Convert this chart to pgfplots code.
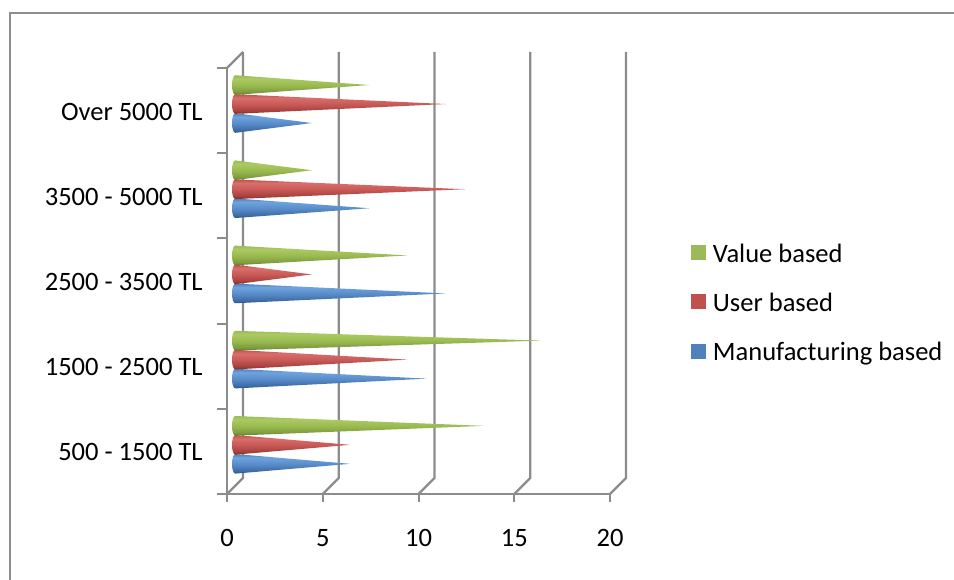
\documentclass[border=0pt]{standalone}
\usepackage{fontspec}
\setmainfont{Carlito}
\usepackage{pgfplots}
\usepackage{pgfplotstable}
\pgfplotsset{compat=1.18}

\definecolor{framegray}{HTML}{8E8E8E}
\definecolor{wallgray}{HTML}{8C8C8C}
\definecolor{conegreen}{HTML}{9BBB59}
\definecolor{conered}{HTML}{C0504D}
\definecolor{coneblue}{HTML}{4F81BD}
\definecolor{gA}{HTML}{5F7A2E}\definecolor{gB}{HTML}{7F9E3E}\definecolor{gC}{HTML}{9BBB52}\definecolor{gD}{HTML}{AACB62}
\definecolor{rA}{HTML}{7E2B29}\definecolor{rB}{HTML}{A8413E}\definecolor{rC}{HTML}{C95A57}\definecolor{rD}{HTML}{D86F6C}
\definecolor{bA}{HTML}{2C5688}\definecolor{bB}{HTML}{3F6EA8}\definecolor{bC}{HTML}{5A8ECB}\definecolor{bD}{HTML}{6FA3DE}

% Cross-section of each cone, dark underside to light upper flank
\pgfdeclareverticalshading{greencone}{100bp}{
  color(0bp)=(gA); color(25bp)=(gA); color(33bp)=(gB);
  color(50bp)=(gC); color(66bp)=(gD); color(75bp)=(conegreen); color(100bp)=(conegreen)}
\pgfdeclareverticalshading{redcone}{100bp}{
  color(0bp)=(rA); color(25bp)=(rA); color(33bp)=(rB);
  color(50bp)=(rC); color(66bp)=(rD); color(75bp)=(conered); color(100bp)=(conered)}
\pgfdeclareverticalshading{bluecone}{100bp}{
  color(0bp)=(bA); color(25bp)=(bA); color(33bp)=(bB);
  color(50bp)=(bC); color(66bp)=(bD); color(75bp)=(coneblue); color(100bp)=(coneblue)}

% Price bands run bottom to top in row order
\pgfplotstableread{
band value
0 6
1 10
2 11
3 7
4 4
}\manufacturing
\pgfplotstableread{
band value
0 6
1 9
2 4
3 12
4 11
}\userbased
\pgfplotstableread{
band value
0 13
1 16
2 9
3 4
4 7
}\valuebased

% Depth of the wall behind the plot, in data units
\def\wallx{0.8355}
\def\wally{0.1878}
% Cones stand half way into the depth
\def\conex{0.43}
% Half height of a cone base and width of its rounded end
\def\coneh{0.115}
\def\conee{0.17}

% One cone per row of a table: table, shading, offset from the middle of the band
\newcommand\conerow[4]{%
  \pgfplotstablegetelem{#4}{value}\of{#1}%
  \pgfmathsetmacro\tip{\pgfplotsretval+\conex}%
  \pgfmathsetmacro\yc{#4+0.5+0.077+#3}%
  \pgfmathsetmacro\ya{\yc+\coneh}%
  \pgfmathsetmacro\yb{\yc-\coneh}%
  \pgfmathsetmacro\yd{\yc+0.92*\coneh}%
  \pgfmathsetmacro\ye{\yc+0.71*\coneh}%
  \pgfmathsetmacro\yf{\yc+0.38*\coneh}%
  \pgfmathsetmacro\yg{\yc-0.38*\coneh}%
  \pgfmathsetmacro\yh{\yc-0.71*\coneh}%
  \pgfmathsetmacro\yi{\yc-0.92*\coneh}%
  \pgfmathsetmacro\xd{\conex-0.38*\conee}%
  \pgfmathsetmacro\xe{\conex-0.71*\conee}%
  \pgfmathsetmacro\xf{\conex-0.92*\conee}%
  \pgfmathsetmacro\xg{\conex-\conee}%
  \addplot[forget plot,draw=none,mark=none,shade,shading=#2] coordinates {
    (\conex,\ya) (\tip,\yc) (\conex,\yb) (\xd,\yi) (\xe,\yh) (\xf,\yg)
    (\xg,\yc) (\xf,\yf) (\xe,\ye) (\xd,\yd)} -- cycle;%
}

\begin{document}
\begin{tikzpicture}[x=0.75pt,y=0.75pt]
  \useasboundingbox (0,0) rectangle (954,580);
  % Outer frame, open towards the right and the bottom
  \draw[framegray,line width=1.5pt] (9.5,0) -- (9.5,566.5) -- (954,566.5);
  \begin{axis}[
    at={(170.25pt,64.5pt)},anchor=south west,
    scale only axis,width=287.25pt,height=319.5pt,
    xmin=0,xmax=20,ymin=0,ymax=5,clip=false,
    axis lines*=left,
    axis line style={wallgray,line width=1.8pt,-},
    tick align=outside,
    xtick={0,5,10,15,20},
    ytick={0.5,1.5,2.5,3.5,4.5},
    yticklabels={500 - 1500 TL,1500 - 2500 TL,2500 - 3500 TL,3500 - 5000 TL,Over 5000 TL},
    minor ytick={0,1,2,3,4,5},
    major tick length=6pt,minor tick length=7.5pt,
    tick style={wallgray,line width=1.5pt},
    major y tick style={draw=none},
    minor y tick style={draw=wallgray,line width=1.5pt},
    /pgf/number format/assume math mode=true,
    tick label style={font=\fontsize{19.9pt}{21pt}\selectfont,text=black},
    xticklabel style={yshift=-17pt},
    yticklabel style={xshift=-8.75pt,yshift=-0.75pt},
    legend style={
      at={(1.2115,0.4445)},anchor=west,draw=none,fill=none,inner sep=0pt,
      font=\fontsize{19.9pt}{21pt}\selectfont,row sep=20.9pt,
      nodes={inner sep=0pt,text height=13pt,text depth=3pt}},
    legend cell align=left,
    legend image code/.code={\fill[#1,draw=none] (0pt,-3.6pt) rectangle (11.25pt,7.6pt);},
  ]
    % Back wall and its links down to the front of the floor
    \foreach \v in {0,5,10,15,20} {
      \edef\wallline{\noexpand\draw[wallgray,line width=1.8pt,line join=miter]
        (axis cs:\v,0) -- (axis cs:\v+\wallx,\wally) -- (axis cs:\v+\wallx,5+\wally);}
      \wallline
    }
    \draw[wallgray,line width=1.8pt] (axis cs:0,5) -- (axis cs:\wallx,5+\wally);

    \pgfplotsinvokeforeach{0,1,2,3,4}{
      \conerow{\manufacturing}{bluecone}{-0.223}{#1}
      \conerow{\userbased}{redcone}{0}{#1}
      \conerow{\valuebased}{greencone}{0.223}{#1}
    }

    \addlegendimage{fill=conegreen}
    \addlegendentry{\hspace{5pt}Value based}
    \addlegendimage{fill=conered}
    \addlegendentry{\hspace{5pt}User based}
    \addlegendimage{fill=coneblue}
    \addlegendentry{\hspace{5pt}Manufacturing based}
  \end{axis}
\end{tikzpicture}
\end{document}
